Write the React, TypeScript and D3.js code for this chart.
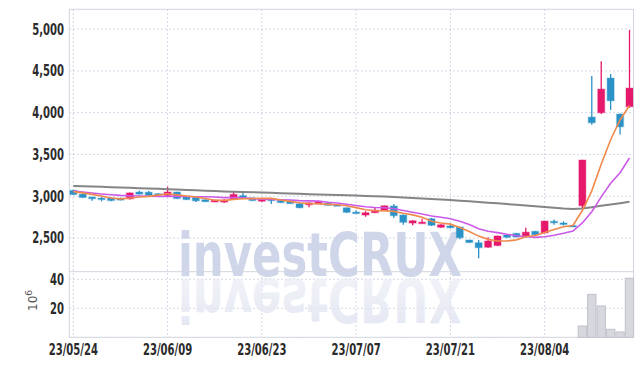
import React from 'react';
import * as d3 from 'd3';

// trading days (KRX), one per candle
const dates = [
  '23/05/24', '23/05/25', '23/05/26', '23/05/30', '23/05/31',
  '23/06/01', '23/06/02', '23/06/05', '23/06/07', '23/06/08', '23/06/09',
  '23/06/12', '23/06/13', '23/06/14', '23/06/15', '23/06/16',
  '23/06/19', '23/06/20', '23/06/21', '23/06/22', '23/06/23',
  '23/06/26', '23/06/27', '23/06/28', '23/06/29', '23/06/30',
  '23/07/03', '23/07/04', '23/07/05', '23/07/06', '23/07/07',
  '23/07/10', '23/07/11', '23/07/12', '23/07/13', '23/07/14',
  '23/07/17', '23/07/18', '23/07/19', '23/07/20', '23/07/21',
  '23/07/24', '23/07/25', '23/07/26', '23/07/27', '23/07/28',
  '23/07/31', '23/08/01', '23/08/02', '23/08/03', '23/08/04',
  '23/08/07', '23/08/08', '23/08/09', '23/08/10', '23/08/11',
  '23/08/14', '23/08/16', '23/08/17', '23/08/18',
];

const opens = [
  3070, 3025, 2990, 2978, 2980, 2972, 2968, 3050, 3048, 3030,
  3008, 3050, 2994, 2990, 2958, 2932, 2930, 2968, 3008, 2980,
  2940, 2965, 2950, 2946, 2910, 2898, 2907, 2915, 2898, 2862,
  2810, 2775, 2803, 2827, 2883, 2775, 2679, 2680, 2731, 2628,
  2644, 2632, 2476, 2444, 2389, 2410, 2536, 2556, 2516, 2580,
  2560, 2700, 2680, 2650, 2886, 3947, 3999, 4414, 3983, 4071,
];
const highs = [
  3078, 3030, 2995, 2995, 2985, 2985, 3045, 3066, 3062, 3040,
  3115, 3055, 2998, 2995, 2962, 2958, 2965, 3056, 3048, 2985,
  2970, 2970, 2955, 2950, 2915, 2926, 2945, 2935, 2902, 2866,
  2830, 2819, 2859, 2890, 2907, 2780, 2712, 2731, 2740, 2664,
  2675, 2636, 2480, 2476, 2508, 2530, 2542, 2560, 2623, 2585,
  2708, 2722, 2700, 2660, 3436, 4438, 4614, 4462, 3990, 4988,
];
const lows = [
  3015, 2980, 2945, 2940, 2940, 2950, 2960, 3020, 3005, 3018,
  3000, 2968, 2955, 2930, 2930, 2928, 2918, 2962, 2980, 2942,
  2935, 2907, 2920, 2908, 2855, 2867, 2903, 2888, 2882, 2800,
  2795, 2755, 2800, 2822, 2739, 2659, 2652, 2676, 2645, 2624,
  2618, 2484, 2442, 2257, 2385, 2405, 2500, 2505, 2512, 2535,
  2555, 2660, 2650, 2640, 2860, 3855, 3983, 4031, 3740, 4060,
];
const closes = [
  3020, 2985, 2970, 2972, 2948, 2965, 3040, 3025, 3010, 3025,
  3050, 2972, 2960, 2945, 2935, 2952, 2955, 3022, 2985, 2948,
  2965, 2948, 2924, 2912, 2862, 2922, 2930, 2891, 2886, 2807,
  2805, 2803, 2835, 2886, 2767, 2688, 2707, 2690, 2652, 2659,
  2623, 2504, 2446, 2384, 2464, 2524, 2508, 2512, 2570, 2540,
  2703, 2692, 2672, 2645, 3433, 3879, 4282, 4142, 3831, 4294,
];
// volume, millions of shares
const volumes = [
  0.3, 0.2, 0.2, 0.1, 0.2, 0.1, 0.3, 0.2, 0.2, 0.1,
  0.3, 0.2, 0.1, 0.2, 0.1, 0.1, 0.1, 0.2, 0.2, 0.1,
  0.1, 0.1, 0.1, 0.1, 0.2, 0.1, 0.1, 0.1, 0.1, 0.2,
  0.1, 0.1, 0.1, 0.2, 0.3, 0.2, 0.1, 0.1, 0.2, 0.1,
  0.1, 0.3, 0.2, 0.3, 0.2, 0.2, 0.1, 0.1, 0.2, 0.1,
  0.3, 0.2, 0.1, 0.1, 7.8, 29.6, 21.6, 5.5, 3.7, 40.7,
];

// moving averages
const ma5 = [
  3055, 3040, 3022, 3002, 2979, 2968, 2979, 2990, 2998, 3013,
  3030, 3016, 3003, 2990, 2972, 2953, 2949, 2962, 2970, 2972,
  2975, 2974, 2954, 2939, 2922, 2914, 2910, 2903, 2898, 2887,
  2864, 2838, 2827, 2827, 2819, 2796, 2777, 2748, 2701, 2679,
  2666, 2626, 2577, 2523, 2484, 2464, 2465, 2478, 2516, 2531,
  2567, 2603, 2635, 2650, 2829, 3064, 3382, 3676, 3913, 4086,
];
const ma10 = [
  3062, 3050, 3038, 3027, 3018, 3010, 3005, 3002, 2999, 2996,
  2999, 2998, 2997, 2994, 2993, 2991, 2983, 2983, 2980, 2972,
  2964, 2962, 2958, 2955, 2947, 2944, 2942, 2929, 2919, 2905,
  2889, 2874, 2865, 2863, 2853, 2830, 2808, 2787, 2764, 2749,
  2731, 2701, 2662, 2612, 2582, 2565, 2545, 2528, 2519, 2508,
  2516, 2534, 2557, 2583, 2680, 2815, 2993, 3156, 3282, 3457,
];
const maLong = [
  3124, 3121, 3117, 3113, 3109, 3105, 3101, 3097, 3093, 3089,
  3085, 3081, 3076, 3071, 3066, 3062, 3058, 3055, 3052, 3048,
  3045, 3041, 3037, 3033, 3029, 3025, 3021, 3018, 3015, 3011,
  3008, 3004, 3000, 2996, 2991, 2985, 2979, 2973, 2967, 2961,
  2955, 2947, 2939, 2931, 2923, 2915, 2906, 2897, 2888, 2879,
  2870, 2861, 2853, 2848, 2852, 2868, 2885, 2900, 2917, 2934,
];

const priceTicks = [2500, 3000, 3500, 4000, 4500, 5000];
const volumeTicks = [20, 40];
const dateTicks = ['23/05/24', '23/06/09', '23/06/23', '23/07/07', '23/07/21', '23/08/04'];

const W = 643;
const H = 366;
const left = 69.3;
const right = 633.5;
const top = 9.3;
const mid = 271.7;
const bottom = 337.3;

const UP = '#e5186b';
const DOWN = '#2b92c8';
const GRID = '#c4c9de';
const FONT = '"DejaVu Sans", sans-serif';
const SQUEEZE = 0.67; // axis font is a narrow, heavy face

export default function App() {
  const x = d3.scalePoint<string>().domain(dates).range([68.6, 634.2]).padding(0.5);
  const y = d3.scaleLinear().domain([2097, 5237]).range([mid, top]);
  const yv = d3.scaleLinear().domain([0, 45.2]).range([bottom, mid]);
  const fmt = d3.format(',');

  const line = (vals: number[]) =>
    d3.line<number>().x((_, i) => x(dates[i]) as number).y((v) => y(v))(vals) as string;

  const bodyW = 7;
  const barW = 8.4;

  const label = (key: string | number, tx: number, ty: number, txt: string, anchor: string) => (
    <text
      key={key}
      transform={`translate(${tx},${ty}) scale(${SQUEEZE},1)`}
      textAnchor={anchor}
      dy="0.36em"
    >
      {txt}
    </text>
  );

  return (
    <svg width={W} height={H} style={{ position: 'absolute', left: 0, top: 0, background: '#fff' }}>
      <defs>
        <clipPath id="main">
          <rect x={left} y={top} width={right - left} height={mid - top} />
        </clipPath>
        <linearGradient id="refl" x1="0" y1="0" x2="0" y2="1">
          <stop offset="0" stopColor="#dfe2f0" stopOpacity={0.9} />
          <stop offset="1" stopColor="#eceef6" stopOpacity={0.6} />
        </linearGradient>
      </defs>

      {/* grid */}
      <g stroke={GRID} strokeWidth={1} strokeDasharray="1.5 2.5">
        {priceTicks.map((t) => (
          <line key={'p' + t} x1={left} x2={right} y1={y(t)} y2={y(t)} />
        ))}
        {volumeTicks.map((t) => (
          <line key={'v' + t} x1={left} x2={right} y1={yv(t)} y2={yv(t)} />
        ))}
        {dateTicks.map((d) => (
          <line key={d} x1={x(d)} x2={x(d)} y1={top} y2={bottom} />
        ))}
      </g>

      {/* watermark */}
      <g fontFamily='"DejaVu Sans", sans-serif' fontWeight="bold" fontSize={60}>
        <text x={178} y={276} textLength={284} lengthAdjust="spacingAndGlyphs" fill="#d0d6ea">
          investCRUX
        </text>
        <text
          x={178}
          y={-279}
          transform="scale(1,-1)"
          textLength={284}
          lengthAdjust="spacingAndGlyphs"
          fill="url(#refl)"
        >
          investCRUX
        </text>
      </g>

      {/* frame */}
      <g stroke="#d3d5df" strokeWidth={1} fill="none">
        <rect x={left} y={top} width={right - left} height={bottom - top} />
        <line x1={left} x2={right} y1={mid} y2={mid} />
      </g>

      {/* volume */}
      <g>
        {volumes.map((v, i) => (
          <rect
            key={i}
            x={(x(dates[i]) as number) - barW / 2}
            y={yv(v)}
            width={barW}
            height={bottom - yv(v)}
            fill="#d7d7de"
            stroke="#c2c2cc"
            strokeWidth={v > 1 ? 1 : 0}
          />
        ))}
      </g>

      {/* candles */}
      <g clipPath="url(#main)">
        {dates.map((d, i) => {
          const cx = x(d) as number;
          const o = opens[i];
          const c = closes[i];
          const col = c >= o ? UP : DOWN;
          const yt = y(Math.max(o, c));
          const yb = y(Math.min(o, c));
          return (
            <g key={d}>
              <line x1={cx} x2={cx} y1={y(highs[i])} y2={y(lows[i])} stroke={col} strokeWidth={1.3} />
              <rect
                x={cx - bodyW / 2}
                y={yt}
                width={bodyW}
                height={Math.max(1.5, yb - yt)}
                fill={col}
                stroke={col}
                strokeOpacity={0.25}
                strokeWidth={1.5}
              />
            </g>
          );
        })}
        <path d={line(maLong)} fill="none" stroke="#858585" strokeWidth={2} />
        <path d={line(ma10)} fill="none" stroke="#cc5ae9" strokeWidth={1.6} />
        <path d={line(ma5)} fill="none" stroke="#ef8a4c" strokeWidth={1.6} />
      </g>

      {/* axis labels */}
      <g fontFamily={FONT} fontWeight="bold" fontSize={15} fill="#2b2b2b">
        {priceTicks.map((t) => label(t, 64, y(t), fmt(t), 'end'))}
        {volumeTicks.map((t) => label('v' + t, 64, yv(t), String(t), 'end'))}
        {dateTicks.map((d) => label(d, x(d) as number, 350, d, 'middle'))}
      </g>
      <text
        transform="translate(37,311) rotate(-90)"
        fontFamily='"DejaVu Sans", sans-serif'
        fontSize={12}
        fill="#555"
      >
        10
        <tspan dy={-5} fontSize={9}>
          6
        </tspan>
      </text>
    </svg>
  );
}
